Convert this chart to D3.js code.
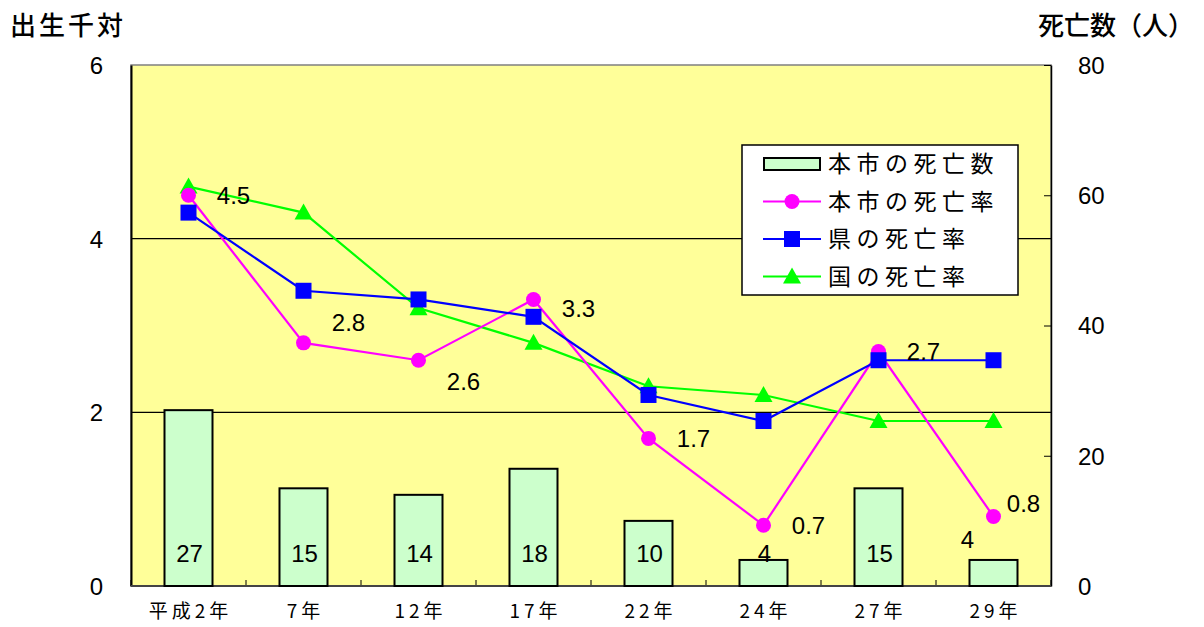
<!DOCTYPE html>
<html>
<head>
<meta charset="utf-8">
<script src="https://cdn.jsdelivr.net/npm/d3@7"></script>
<style>
  body { margin: 0; background: #fff; }
  svg text { font-family: "Noto Sans CJK JP", "DejaVu Sans", sans-serif; fill: #000; }
  .num { font-family: "Liberation Sans", Arial, sans-serif; }
</style>
</head>
<body>
<div id="chart"></div>
<script>
// data
const years = ['平成2年', '7年', '12年', '17年', '22年', '24年', '27年', '29年'];
const deaths = [27, 15, 14, 18, 10, 4, 15, 4];           // 本市の死亡数
const cityRate = [4.5, 2.8, 2.6, 3.3, 1.7, 0.7, 2.7, 0.8]; // 本市の死亡率
const prefRate = [4.3, 3.4, 3.3, 3.1, 2.2, 1.9, 2.6, 2.6]; // 県の死亡率
const natRate = [4.6, 4.3, 3.2, 2.8, 2.3, 2.2, 1.9, 1.9];  // 国の死亡率
const leftTicks = [0, 2, 4, 6];
const rightTicks = [0, 20, 40, 60, 80];

const width = 1204, height = 627;
const plot = {left: 131, right: 1051, top: 65, bottom: 586};

const svg = d3.select('#chart')
.append('svg')
.attr('width', width)
.attr('height', height);

const x = d3.scaleBand()
.domain(years)
.range([plot.left, plot.right]);

const yL = d3.scaleLinear().domain([0, 6]).range([plot.bottom, plot.top]);
const yR = d3.scaleLinear().domain([0, 80]).range([plot.bottom, plot.top]);

// plot background
svg.append('rect')
.attr('x', plot.left).attr('y', plot.top)
.attr('width', plot.right - plot.left).attr('height', plot.bottom - plot.top)
.attr('fill', '#FFFF99')
.attr('stroke', '#808080')
.attr('stroke-width', 1.5);

// gridlines
svg.append('g')
.selectAll('line')
.data(leftTicks.filter(d => d > 0 && d < 6))
.enter()
.append('line')
.attr('x1', plot.left).attr('x2', plot.right)
.attr('y1', d => yL(d)).attr('y2', d => yL(d))
.attr('stroke', '#000').attr('stroke-width', 1.2);

// left axis
const axL = svg.append('g')
.attr('transform', `translate(${plot.left},0)`)
.call(d3.axisLeft(yL).tickValues(leftTicks).tickFormat(d3.format('d')).tickSize(0).tickPadding(28));
axL.select('.domain').attr('stroke', '#000').attr('stroke-width', 2);
axL.selectAll('text').attr('class', 'num').style('font-size', '24px').attr('dy', '0.35em');

// right axis (ticks pointing inwards)
const axR = svg.append('g')
.attr('transform', `translate(${plot.right},0)`)
.call(d3.axisRight(yR).tickValues(rightTicks).tickSizeInner(-7).tickSizeOuter(0).tickPadding(27));
axR.select('.domain').attr('stroke', '#000').attr('stroke-width', 1.5);
axR.selectAll('line').attr('stroke', '#000');
axR.selectAll('text').attr('class', 'num').style('font-size', '24px').attr('dy', '0.35em');

// bottom axis: category boundary ticks inside
const bounds = d3.range(years.length + 1).map(i => plot.left + i * x.step());
svg.append('g')
.selectAll('line')
.data(bounds)
.enter()
.append('line')
.attr('x1', d => d).attr('x2', d => d)
.attr('y1', plot.bottom).attr('y2', plot.bottom - 6)
.attr('stroke', '#000').attr('stroke-width', 1);
svg.append('line')
.attr('x1', plot.left).attr('x2', plot.right)
.attr('y1', plot.bottom).attr('y2', plot.bottom)
.attr('stroke', '#444').attr('stroke-width', 2);

svg.append('g')
.selectAll('text')
.data(years)
.enter()
.append('text')
.attr('x', d => x(d) + x.bandwidth() / 2 + 2)
.attr('y', 618)
.attr('text-anchor', 'middle')
.style('font-size', '19px')
.style('letter-spacing', '4px')
.text(d => d);

// bars
const barW = 48;
svg.append('g')
.selectAll('rect')
.data(deaths)
.enter()
.append('rect')
.attr('x', (d, i) => x(years[i]) + x.bandwidth() / 2 - barW / 2)
.attr('y', d => yR(d))
.attr('width', barW)
.attr('height', d => plot.bottom - yR(d))
.attr('fill', '#CCFFCC')
.attr('stroke', '#000')
.attr('stroke-width', 2);

// bar labels (inside base; last one nudged)
svg.append('g')
.selectAll('text')
.data(deaths)
.enter()
.append('text')
.attr('class', 'num')
.attr('x', (d, i) => x(years[i]) + x.bandwidth() / 2 + (i === 7 ? -26 : 1))
.attr('y', (d, i) => plot.bottom - 24 - (i === 7 ? 14 : 0))
.attr('text-anchor', 'middle')
.style('font-size', '24px')
.text(d => d);

// lines
const cx = i => x(years[i]) + x.bandwidth() / 2;
const line = d3.line().x((d, i) => cx(i)).y(d => yL(d));

const series = [
  {values: natRate, color: '#00FF00', shape: 'triangle'},
  {values: cityRate, color: '#FF00FF', shape: 'circle'},
  {values: prefRate, color: '#0000FF', shape: 'square'}
];

const drawMarker = (g, shape, color) => {
  if (shape === 'circle') {
    g.append('circle').attr('r', 7.5).attr('fill', color);
  } else if (shape === 'square') {
    g.append('rect').attr('x', -8).attr('y', -8).attr('width', 16).attr('height', 16).attr('fill', color);
  } else {
    g.append('path').attr('d', 'M0,-9L9,7L-9,7Z').attr('fill', color);
  }
};

series.forEach(s => {
  svg.append('path')
  .datum(s.values)
  .attr('d', line)
  .attr('fill', 'none')
  .attr('stroke', s.color)
  .attr('stroke-width', 2.2);
});
series.forEach(s => {
  s.values.forEach((v, i) => {
    const g = svg.append('g').attr('transform', `translate(${cx(i)},${yL(v)})`);
    drawMarker(g, s.shape, s.color);
  });
});

// city rate labels
const labelDy = [0, -20, 21, 9, 0, 0, 0, -13];
svg.append('g')
.selectAll('text')
.data(cityRate)
.enter()
.append('text')
.attr('class', 'num')
.attr('x', (d, i) => cx(i) + (i === 7 ? 30 : 45))
.attr('y', (d, i) => yL(d) + labelDy[i])
.attr('dy', '0.35em')
.attr('text-anchor', 'middle')
.style('font-size', '24px')
.text(d => d);

// axis titles
svg.append('text')
.attr('x', 10).attr('y', 35)
.style('font-size', '26px')
.style('letter-spacing', '3px')
.style('font-weight', '500')
.text('出生千対');
svg.append('text')
.attr('x', 1038).attr('y', 35)
.style('font-size', '26px')
.style('font-weight', '500')
.text('死亡数（人）');

// legend
const legend = svg.append('g').attr('transform', 'translate(742,145)');
legend.append('rect')
.attr('width', 276).attr('height', 150)
.attr('fill', '#fff').attr('stroke', '#000').attr('stroke-width', 1.5);

const legItems = [
  {label: '本市の死亡数', shape: 'bar'},
  {label: '本市の死亡率', shape: 'circle', color: '#FF00FF'},
  {label: '県の死亡率', shape: 'square', color: '#0000FF'},
  {label: '国の死亡率', shape: 'triangle', color: '#00FF00'}
];

legItems.forEach((d, i) => {
  const g = legend.append('g').attr('transform', `translate(0,${19 + i * 37.5})`);
  if (d.shape === 'bar') {
    g.append('rect').attr('x', 22).attr('y', -6).attr('width', 56).attr('height', 12)
    .attr('fill', '#CCFFCC').attr('stroke', '#000').attr('stroke-width', 2);
  } else {
    g.append('line').attr('x1', 21).attr('x2', 79).attr('stroke', d.color).attr('stroke-width', 2);
    const m = g.append('g').attr('transform', 'translate(50,0)');
    drawMarker(m, d.shape, d.color);
  }
  g.append('text')
  .attr('x', 86).attr('dy', '0.36em')
  .style('font-size', '23px')
  .style('letter-spacing', '5.5px')
  .text(d.label);
});
</script>
</body>
</html>
